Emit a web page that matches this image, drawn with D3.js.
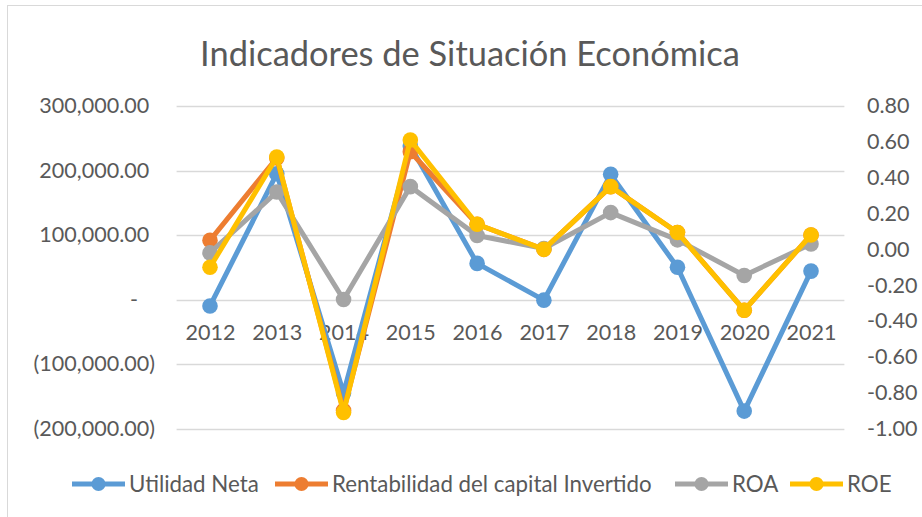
<!DOCTYPE html>
<html>
<head>
<meta charset="utf-8">
<script src="https://cdn.jsdelivr.net/npm/d3@7"></script>
<style>
  html, body { margin: 0; padding: 0; background: #ffffff; }
  svg { display: block; }
</style>
</head>
<body>
<svg id="chart" width="922" height="517"></svg>
<script>
// ---------- data ----------
const titleText = "Indicadores de Situación Económica";
const years = ["2012", "2013", "2014", "2015", "2016", "2017", "2018", "2019", "2020", "2021"];
const utilidadNeta = [-10000, 195000, -145000, 238000, 56000, -1000, 194000, 50000, -173000, 44000];
const rentabilidadCapital = [0.05, 0.51, -0.90, 0.545, 0.14, 0.00, 0.35, 0.094, -0.34, 0.08];
const roa = [-0.02, 0.32, -0.28, 0.35, 0.077, 0.005, 0.205, 0.053, -0.146, 0.03];
const roe = [-0.10, 0.515, -0.91, 0.61, 0.14, 0.00, 0.35, 0.094, -0.34, 0.08];
const leftTicks = [-200000, -100000, 0, 100000, 200000, 300000];
const rightTicks = [-1.0, -0.8, -0.6, -0.4, -0.2, 0.0, 0.2, 0.4, 0.6, 0.8];
const seriesNames = ["Utilidad Neta", "Rentabilidad del capital Invertido", "ROA", "ROE"];
const seriesColors = ["#5B9BD5", "#ED7D31", "#A5A5A5", "#FFC000"];

// ---------- setup ----------
const svg = d3.select("#chart");
const FONT = "Lato, 'Open Sans', 'DejaVu Sans', sans-serif";
const TXT = "#595959";

function fitSize(str, targetW, weight) {
  const t = svg.append("text").attr("font-family", FONT).attr("font-size", 100)
    .attr("font-weight", weight || 400).text(str);
  const w = t.node().getComputedTextLength();
  t.remove();
  return 100 * targetW / w;
}
const axisSize = fitSize("300,000.00", 110);
const legendSize = fitSize("Rentabilidad del capital Invertido", 320);
const titleSize = fitSize(titleText, 540, 400);

// chart frame
svg.append("rect").attr("x", 7.5).attr("y", 5.5).attr("width", 1000).attr("height", 1000)
  .attr("fill", "none").attr("stroke", "#D9D9D9").attr("stroke-width", 1);

// scales
const plotLeft = 176.6, plotRight = 844.4, plotTop = 106, plotBottom = 428.5;
const x = d3.scalePoint().domain(years).range([plotLeft, plotRight]).padding(0.5);
const yL = d3.scaleLinear().domain([-200000, 300000]).range([plotBottom, plotTop]);
const yR = d3.scaleLinear().domain([-1.0, 0.8]).range([plotBottom, plotTop]);

// title
svg.append("text").attr("x", 470).attr("y", 66).attr("text-anchor", "middle")
  .attr("font-family", FONT).attr("font-weight", 400).attr("font-size", titleSize)
  .attr("fill", TXT).text(titleText);

// gridlines
svg.append("g").selectAll("line").data(leftTicks).join("line")
  .attr("x1", plotLeft).attr("x2", plotRight)
  .attr("y1", d => Math.round(yL(d)) + 0.5).attr("y2", d => Math.round(yL(d)) + 0.5)
  .attr("stroke", "#D9D9D9").attr("stroke-width", 1.3);

// left axis
const fmtNum = d3.format(",.2f");
const leftFmt = d => d === 0 ? "-" : (d < 0 ? "(" + fmtNum(-d) + ")" : fmtNum(d));
const leftAxis = svg.append("g").attr("transform", "translate(155,0)")
  .call(d3.axisLeft(yL).tickValues(leftTicks).tickFormat(leftFmt).tickSize(0).tickPadding(0));
leftAxis.select(".domain").remove();
const parenW = (function () {
  const t = svg.append("text").attr("font-family", FONT).attr("font-size", axisSize).text(")");
  const w = t.node().getComputedTextLength(); t.remove(); return w;
})();
leftAxis.selectAll(".tick text")
  .attr("font-family", FONT).attr("font-size", axisSize).attr("fill", TXT)
  .attr("x", d => d < 0 ? 0 : (d === 0 ? -17 : -parenW));

// right axis
const rightAxis = svg.append("g").attr("transform", "translate(867,0)")
  .call(d3.axisRight(yR).tickValues(rightTicks).tickFormat(d3.format(".2f")).tickSize(0).tickPadding(0));
rightAxis.select(".domain").remove();
rightAxis.selectAll(".tick text")
  .attr("font-family", FONT).attr("font-size", axisSize).attr("fill", TXT)
  .text(d => d3.format(".2f")(d).replace("−", "-"));

// category axis (labels below the primary zero line)
const xAxis = svg.append("g").attr("transform", `translate(0,${yL(0)})`)
  .call(d3.axisBottom(x).tickSize(0).tickPadding(0));
xAxis.select(".domain").remove();
xAxis.selectAll(".tick text")
  .attr("font-family", FONT).attr("font-size", axisSize).attr("fill", TXT)
  .attr("dy", null).attr("y", 40);

// series
const seriesData = [
  { vals: utilidadNeta, scale: yL },
  { vals: rentabilidadCapital, scale: yR },
  { vals: roa, scale: yR },
  { vals: roe, scale: yR }
];
const line = sc => d3.line().x((d, i) => x(years[i])).y(d => sc(d));
seriesData.forEach((s, k) => {
  const g = svg.append("g");
  g.append("path").datum(s.vals).attr("d", line(s.scale))
    .attr("fill", "none").attr("stroke", seriesColors[k]).attr("stroke-width", 5)
    .attr("stroke-linejoin", "round");
  g.selectAll("circle").data(s.vals).join("circle")
    .attr("cx", (d, i) => x(years[i])).attr("cy", d => s.scale(d)).attr("r", 7.8)
    .attr("fill", seriesColors[k]);
});

// legend
const legendX = [72, 275, 675, 790];
const legendY = 484;
seriesNames.forEach((name, k) => {
  const g = svg.append("g").attr("transform", `translate(${legendX[k]},${legendY})`);
  g.append("line").attr("x1", 0).attr("x2", 53).attr("y1", 0).attr("y2", 0)
    .attr("stroke", seriesColors[k]).attr("stroke-width", 5);
  g.append("circle").attr("cx", 26.5).attr("cy", 0).attr("r", 7).attr("fill", seriesColors[k]);
  g.append("text").attr("x", 57).attr("y", 0).attr("dy", "0.35em")
    .attr("font-family", FONT).attr("font-size", legendSize).attr("fill", TXT).text(name);
});
</script>
</body>
</html>
